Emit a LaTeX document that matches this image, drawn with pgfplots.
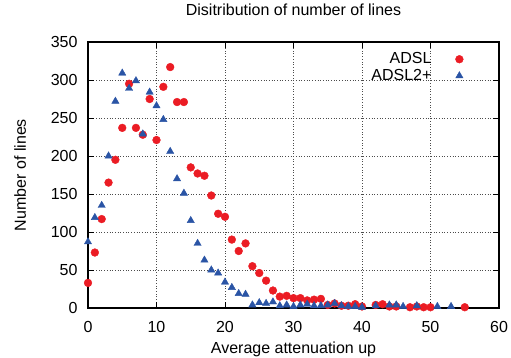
\documentclass[border=0pt]{standalone}
\usepackage{pgfplots}
\pgfplotsset{compat=1.18}
\usepackage{fontspec}
\setmainfont{Liberation Sans}
\definecolor{adslred}{RGB}{235,28,36}
\definecolor{adslblue}{RGB}{42,84,165}
\begin{document}
\fontsize{16}{19}\selectfont
\begin{tikzpicture}
\begin{axis}[
  scale only axis,
  width=411pt, height=266pt,
  xmin=0, xmax=60, ymin=0, ymax=350,
  xtick={0,10,...,60}, ytick={0,50,...,350},
  grid=major,
  major grid style={black!70, line width=0.7pt, dotted},
  axis line style={black, line width=1.1pt},
  tick style={black, line width=0.9pt},
  tick align=inside,
  major tick length=6pt,
  /pgf/number format/assume math mode=true,
  ticklabel style={font=\fontsize{16}{19}\selectfont},
  yticklabel style={xshift=-5pt},
  xticklabel style={yshift=-8pt},
  title={Disitribution of number of lines},
  title style={font=\fontsize{16}{19}\selectfont, at={(axis description cs:0.5,1.098)}, anchor=center},
  xlabel={Average attenuation up},
  ylabel={Number of lines},
  label style={font=\fontsize{16}{19}\selectfont},
  xlabel style={at={(axis description cs:0.5,-0.154)}, anchor=center},
  ylabel style={at={(axis description cs:-0.165,0.5)}, anchor=center},
  legend style={at={(0.9136,0.969)}, anchor=north east, draw=none, fill=none,
    inner sep=0pt, nodes={inner sep=2pt}, column sep=22pt,
    font=\fontsize{16}{19}\selectfont, row sep=-1pt},
  legend cell align=right,
  legend plot pos=right,
]
\addplot[only marks, mark=*, mark size=3.9pt, color=adslred] coordinates {
(0,33) (1,73) (2,117) (3,165) (4,195) (5,237) (6,295) (7,237) (8,228) (9,275)
(10,221) (11,291) (12,317) (13,271) (14,271) (15,185) (16,177) (17,174) (18,148) (19,124)
(20,120) (21,90) (22,75) (23,85) (24,55) (25,46) (26,36) (27,23) (28,15) (29,16)
(30,13) (31,13) (32,10) (33,11) (34,12) (35,4) (36,6) (37,3) (38,3) (39,5)
(40,2) (42,4) (43,5) (44,2) (45,2) (47,1) (48,2) (49,1) (50,1) (55,1)
};
\addlegendentry{ADSL}
\addplot[only marks, mark=triangle*, mark size=4.2pt, color=adslblue] coordinates {
(0,87) (1,119) (2,135) (3,200) (4,272) (5,309) (6,289) (7,299) (8,229) (9,284)
(10,266) (11,248) (12,206) (13,170) (14,151) (15,115) (16,85) (17,63) (18,50) (19,46)
(20,34) (21,27) (22,19) (23,18) (24,4) (25,7) (26,6) (27,8) (28,3) (29,4)
(30,2) (31,4) (32,5) (33,3) (34,3) (35,4) (36,6) (37,3) (38,2) (39,2)
(40,1) (42,3) (44,4) (45,4) (46,2) (48,3) (51,2) (53,2)
};
\addlegendentry{ADSL2+}
\end{axis}
\pgfresetboundingbox
\path ([xshift=-88pt,yshift=-50pt]current axis.south west) rectangle ([xshift=12pt,yshift=42pt]current axis.north east);
\end{tikzpicture}
\end{document}
